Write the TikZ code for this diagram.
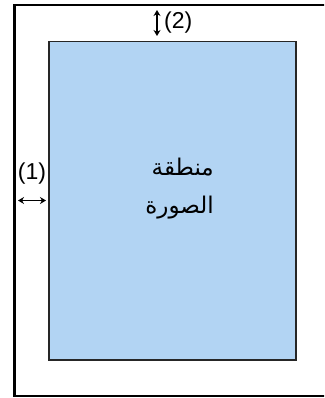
\documentclass[tikz,border=0pt]{standalone}
\usepackage{fontspec}
\setmainfont{Liberation Sans}
\newfontfamily\arabicfont[Script=Arabic]{DejaVu Sans}
\TeXXeTstate=1
\usetikzlibrary{arrows.meta}
\definecolor{areablue}{RGB}{178,212,243}
\tikzset{
  frameline/.style={draw=black, line width=2.2pt},
  areabox/.style={draw=black!85, line width=1.8pt, fill=areablue},
  dimarrow/.style={line width=1.3pt, {Stealth[length=6pt,width=7pt]}-{Stealth[length=6pt,width=7pt]}},
  dimlabel/.style={font=\fontsize{23}{25}\selectfont, inner sep=0pt},
}
\begin{document}
\begin{tikzpicture}[x=1pt,y=-1pt]
\useasboundingbox (0,0) rectangle (324,398);
\clip (0,0) rectangle (324,398);
\draw[frameline] (14.5,5) rectangle (340,396);
\draw[areabox] (49,41.5) rectangle (296,360);
\node[anchor=east, align=right, inner sep=0pt, font=\arabicfont\fontsize{23}{38}\selectfont] (title) at (214,189)
  {\beginR منطقة\endR\\ \beginR الصورة\endR};
\coordinate (t1) at (157,10);
\coordinate (t2) at (157,36);
\draw[dimarrow] (t1) -- (t2);
\node[dimlabel, anchor=west] (l2) at (164,23) {(2)};
\coordinate (s1) at (18,200.5);
\coordinate (s2) at (46,200.5);
\draw[dimarrow] (s1) -- (s2);
\node[dimlabel] (l1) at (32,174) {(1)};
\end{tikzpicture}
\end{document}
